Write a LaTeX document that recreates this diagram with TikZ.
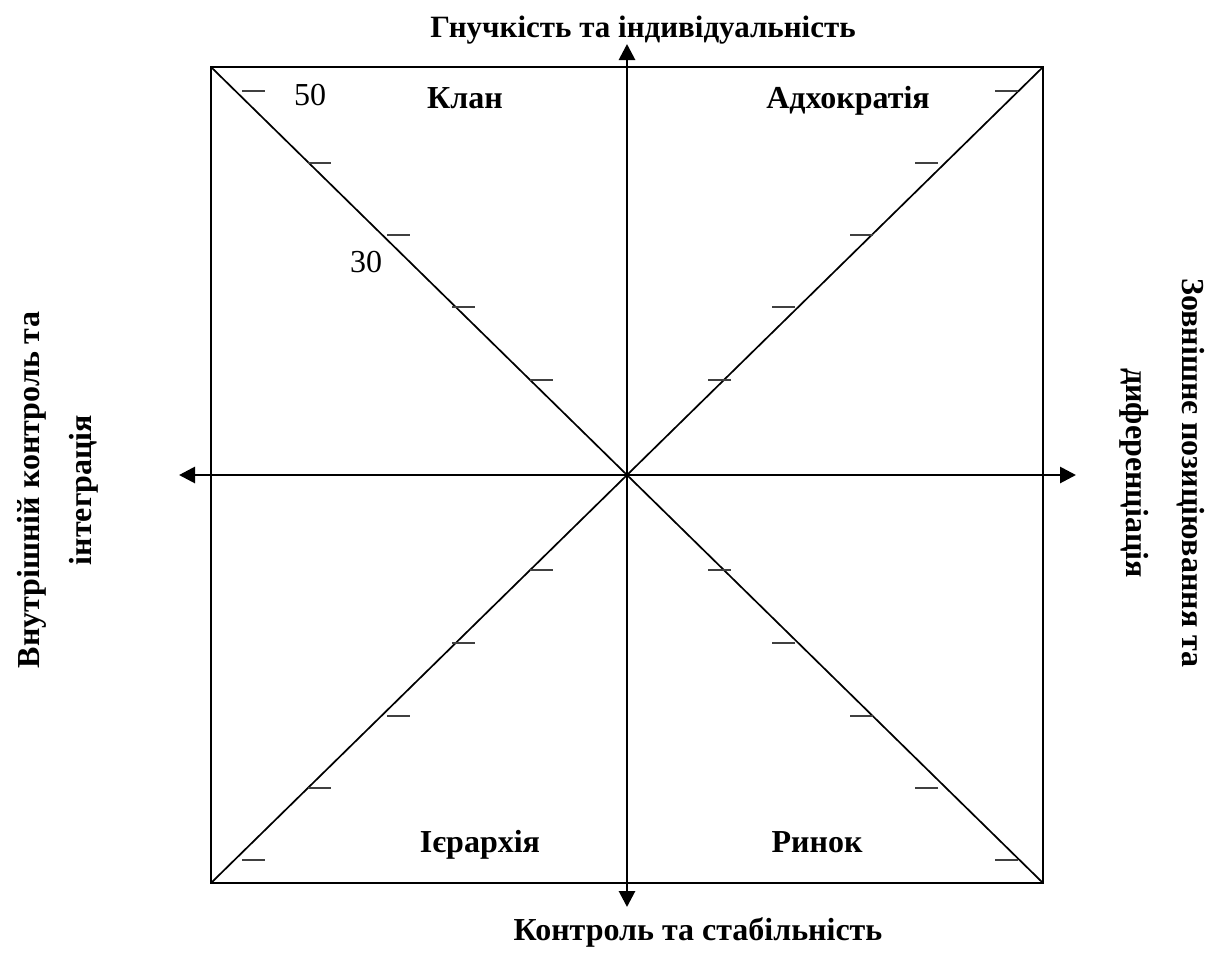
\documentclass[tikz,border=0pt]{standalone}
\usepackage{fontspec}
\setmainfont{Liberation Serif}
\usetikzlibrary{arrows.meta}
\begin{document}
\begin{tikzpicture}[x=0.5pt,y=-0.5pt,
  frame/.style={line width=1.1pt,black},
  diag/.style={line width=0.85pt,black},
  axis/.style={line width=1.4pt,black,-{Triangle[length=8pt,width=8pt]}},
  tick/.style={line width=0.7pt,black!75},
  lbl/.style={font=\fontsize{16}{19}\selectfont\bfseries,inner sep=0pt,anchor=base},
  num/.style={font=\fontsize{16}{19}\selectfont,inner sep=0pt,anchor=base},
  side/.style={font=\fontsize{16}{26}\selectfont\bfseries,align=center,inner sep=0pt}]
\useasboundingbox (0,0) rectangle (1213,954);
% corners and centre
\coordinate (tl) at (211,67);
\coordinate (tr) at (1043,67);
\coordinate (br) at (1043,883);
\coordinate (bl) at (211,883);
\coordinate (c) at (627,475);
\coordinate (top) at (627,44);
\coordinate (bot) at (627,907);
\coordinate (lft) at (179,475);
\coordinate (rgt) at (1076,475);
% frame
\draw[frame] (tl) -- (tr) -- (br) -- (bl) -- cycle;
% diagonals
\draw[diag] (tl) -- (br);
\draw[diag] (tr) -- (bl);
% axes
\draw[axis] (c) -- (top);
\draw[axis] (c) -- (bot);
\draw[axis] (c) -- (lft);
\draw[axis] (c) -- (rgt);
% ticks
\foreach \xs/\yu/\yd in {242/91/860, 308/163/788, 387/235/716, 452/307/643, 530/380/570}{
  \draw[tick] (\xs,\yu) -- ++(23,0);
  \draw[tick] (\xs,\yd) -- ++(23,0);
}
\foreach \xe/\yu/\yd in {1018/91/860, 938/163/788, 873/235/716, 795/307/643, 731/380/570}{
  \draw[tick] (\xe,\yu) -- ++(-23,0);
  \draw[tick] (\xe,\yd) -- ++(-23,0);
}
% numbers
\node[num] (n50) at (310,105) {50};
\node[num] (n30) at (366,272) {30};
% quadrant labels
\node[lbl] (clan) at (465,108) {Клан};
\node[lbl] (adh) at (848,108) {Адхократія};
\node[lbl] (ier) at (480,852) {Ієрархія};
\node[lbl] (rin) at (817,852) {Ринок};
% axis labels
\node[lbl,font=\fontsize{15.5}{19}\selectfont\bfseries] (ttop) at (643,37) {Гнучкість та індивідуальність};
\node[lbl] (tbot) at (698,940) {Контроль та стабільність};
\node[side,rotate=90] (tleft) at (58,490) {Внутрішній контроль та\\інтеграція};
\node[side,rotate=-90,font=\fontsize{16}{28}\selectfont\bfseries] (tright) at (1162,473) {Зовнішнє позиціювання та\\диференціація};
\end{tikzpicture}
\end{document}
